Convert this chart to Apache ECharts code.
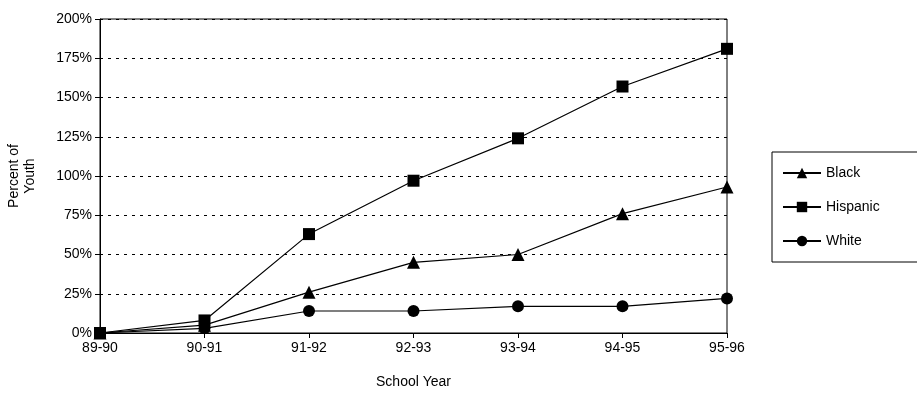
<!DOCTYPE html>
<html>
<head>
<meta charset="UTF-8">
<script src="https://cdn.jsdelivr.net/npm/echarts@6/dist/echarts.min.js"></script>
</head>
<body style="margin:0;background:#fff">
<div id="chart1" style="width:917px;height:400px;"></div>
<script type="text/javascript">
var years = ['89-90', '90-91', '91-92', '92-93', '93-94', '94-95', '95-96'];
var black = [0, 5, 26, 45, 50, 76, 93];
var hispanic = [0, 8, 63, 97, 124, 157, 181];
var white = [0, 3, 14, 14, 17, 17, 22];

var chart1 = echarts.init(document.getElementById('chart1'));
var font = 'Liberation Sans, Arial, sans-serif';
function line(name, data, symbol, size) {
	return {
		name: name, type: 'line', data: data, symbol: symbol, symbolSize: size,
		itemStyle: { color: '#000' }, lineStyle: { color: '#000', width: 1.2 },
		animation: false
	};
}
var option = {
	textStyle: { fontFamily: font, color: '#000' },
	grid: { left: 100, right: 190, top: 19, bottom: 67, show: true, borderColor: '#000', borderWidth: 1, containLabel: false, outerBoundsMode: 'none' },
	legend: {
		orient: 'vertical', left: 772, top: 152,
		padding: [14, 40, 14, 10], itemGap: 20, itemWidth: 38, itemHeight: 13,
		borderColor: '#000', borderWidth: 1,
		textStyle: { fontSize: 14, color: '#000', fontFamily: font },
		data: ['Black', 'Hispanic', 'White']
	},
	xAxis: {
		type: 'category', data: years, boundaryGap: false,
		name: 'School Year', nameLocation: 'middle', nameGap: 42,
		nameTextStyle: { fontSize: 14, color: '#000' },
		axisLine: { lineStyle: { color: '#000' } },
		axisTick: { lineStyle: { color: '#000' } },
		axisLabel: { fontSize: 14, color: '#000', margin: 8 }
	},
	yAxis: {
		type: 'value', min: 0, max: 200, interval: 25,
		name: 'Percent of\nYouth', nameLocation: 'middle', nameGap: 62,
		nameTextStyle: { fontSize: 14, color: '#000', lineHeight: 16 },
		axisLine: { show: true, lineStyle: { color: '#000' } },
		axisTick: { show: true, lineStyle: { color: '#000' } },
		axisLabel: { fontSize: 14, color: '#000', formatter: '{value}%' },
		splitLine: { lineStyle: { color: '#000', type: [3, 5], width: 1.2 } }
	},
	series: [
		line('Black', black, 'triangle', 13),
		line('Hispanic', hispanic, 'rect', 12),
		line('White', white, 'circle', 12)
	]
};
chart1.setOption(option);
</script>
</body>
</html>
